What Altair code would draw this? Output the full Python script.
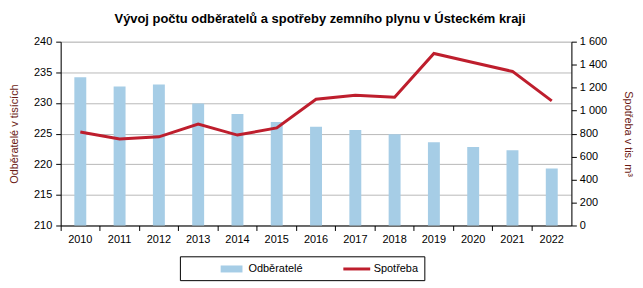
import altair as alt
import pandas as pd

years = ["2010", "2011", "2012", "2013", "2014", "2015", "2016", "2017", "2018", "2019", "2020", "2021", "2022"]
odberatele = [234.2, 232.7, 233.0, 229.9, 228.2, 226.9, 226.1, 225.6, 224.9, 223.6, 222.8, 222.3, 219.3]
spotreba = [813, 753, 772, 882, 787, 850, 1099, 1133, 1116, 1497, 1419, 1341, 1085]
series_names = ["Odběratelé", "Spotřeba"]

df = pd.DataFrame({"rok": years, "odb": odberatele, "spo": spotreba})
legend_df = pd.DataFrame({"series": series_names})

FONT = "Liberation Sans"
BAR = "#a6cde6"
LINE = "#be1e2d"
TITLE_COL = "#6b1a14"

x_enc = alt.X("rok:N", title=None, sort=years,
              scale=alt.Scale(paddingInner=0.0, paddingOuter=0.0),
              axis=alt.Axis(bandPosition=0, labelAngle=0, domainColor="black", tickColor="black",
                            tickSize=5, labelPadding=3, labelFontSize=11, labelColor="black",
                            grid=False, labelFont=FONT))

bars = alt.Chart(df).mark_bar(size=12, color=BAR, clip=True).encode(
    x=x_enc,
    y=alt.Y("odb:Q", scale=alt.Scale(domain=[210, 240], zero=False, nice=False),
            axis=alt.Axis(title="Odběratelé v tisících", values=list(range(210, 241, 5)),
                          orient="left", grid=True, gridColor="#b8b8b8", domainColor="black",
                          tickColor="black", tickSize=5, labelPadding=4, labelFontSize=11,
                          labelColor="black", labelFont=FONT, titleFont=FONT, titleFontSize=11,
                          titleFontWeight="normal", titleColor=TITLE_COL, titlePadding=14)),
)

line = alt.Chart(df).mark_line(color=LINE, strokeWidth=3).encode(
    x=alt.X("rok:N", sort=years),
    y=alt.Y("spo:Q", scale=alt.Scale(domain=[0, 1600], nice=False),
            axis=alt.Axis(title="Spotřeba v tis. m³", values=list(range(0, 1601, 200)),
                          orient="right", grid=False, domainColor="black",
                          tickColor="black", tickSize=5, labelPadding=3, labelFontSize=11,
                          labelColor="black", labelFont=FONT, titleFont=FONT, titleFontSize=11,
                          titleFontWeight="normal", titleColor=TITLE_COL, titlePadding=16,
                          labelExpr="replace(format(datum.value, ','), ',', ' ')")),
)

bar_path = "M-1.69,-0.54H1.69V0.54H-1.69Z"
line_path = "M-2.08,-0.23H2.08V0.23H-2.08Z"

NBSP = "\u00a0" * 15
leg = alt.Legend(title=None, orient="none", legendX=120, legendY=216,
                 direction="horizontal", strokeColor="black", padding=6,
                 symbolSize=169, symbolOffset=39.5, labelOffset=10.5,
                 columnPadding=8, labelFontSize=11, labelFont=FONT,
                 labelColor="black", symbolOpacity=1, symbolStrokeWidth=0,
                 labelExpr="datum.label == 'Spotřeba' ? datum.label + '" + NBSP + "' : datum.label")

legend_layer = alt.Chart(legend_df).mark_point(filled=True, opacity=0).encode(
    color=alt.Color("series:N", scale=alt.Scale(domain=series_names, range=[BAR, LINE]), legend=leg),
    shape=alt.Shape("series:N", scale=alt.Scale(domain=series_names, range=[bar_path, line_path]), legend=leg),
)

chart = alt.layer(bars, line, legend_layer).resolve_scale(y="independent").properties(
    width=514, height=185,
    title=alt.TitleParams("Vývoj počtu  odběratelů a spotřeby  zemního plynu v Ústeckém  kraji",
                          font=FONT, fontSize=13, fontWeight="bold", color="black",
                          anchor="middle", offset=10, dx=4),
    autosize=alt.AutoSizeParams(type="none"),
    padding={"left": 53, "top": 33, "right": 64, "bottom": 60},
).configure_view(stroke=None).configure(background="white")

chart.save("out.html", embed_options={"renderer": "svg", "actions": False})
